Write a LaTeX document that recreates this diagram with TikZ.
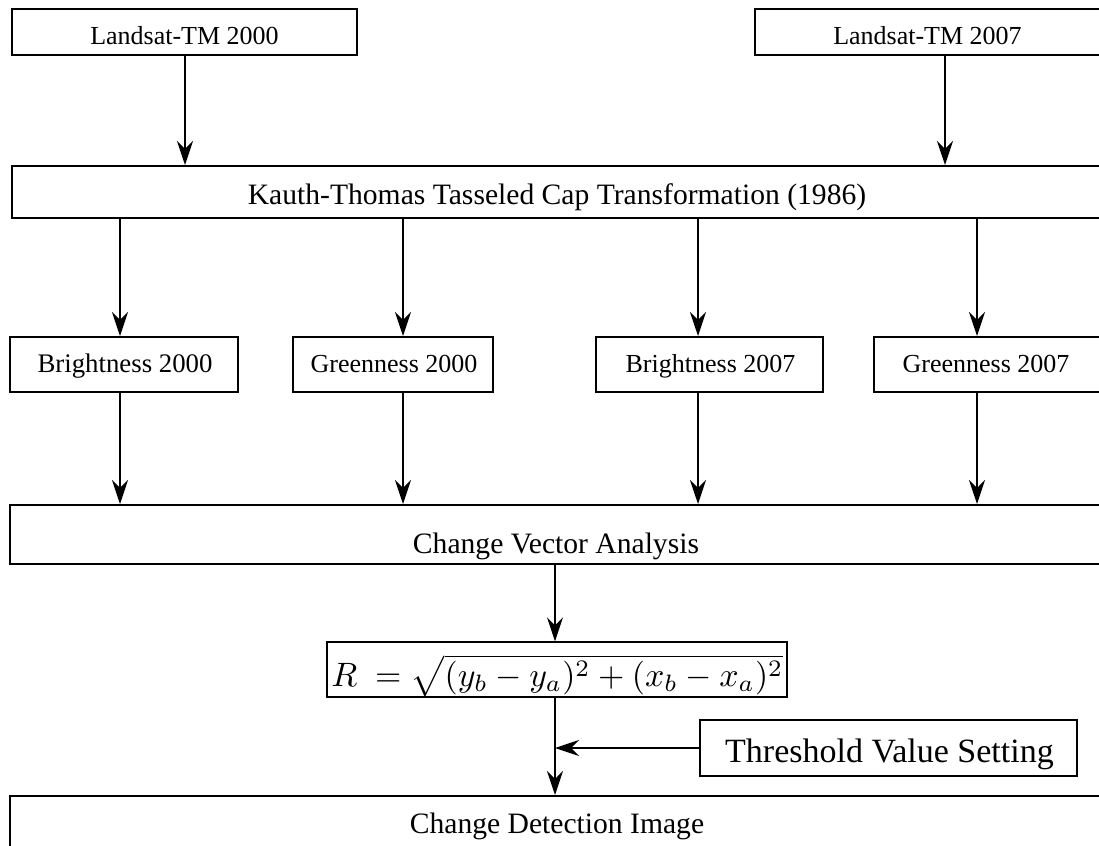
\documentclass[tikz,border=0pt]{standalone}
\usepackage{fontspec}
\setmainfont{Liberation Serif}
\usetikzlibrary{arrows.meta}
\begin{document}
\begin{tikzpicture}[x=0.5pt,y=-0.5pt,
  box/.style={draw, line width=1pt, rectangle, inner sep=0pt},
  thinbox/.style={draw, line width=0.6pt, rectangle, inner sep=0pt},
  txt/.style={inner sep=0pt, anchor=base, font=\fontsize{13}{15}\selectfont},
  widetxt/.style={inner sep=0pt, anchor=base, font=\fontsize{14.8}{17}\selectfont},
  bigtxt/.style={inner sep=0pt, anchor=base, font=\fontsize{17}{20}\selectfont},
  arr/.style={-{Stealth[length=12pt,width=8pt,inset=4pt]}, line width=0.75pt}]
\useasboundingbox (0,0) rectangle (1099,846);
\clip (0,0) rectangle (1099,846);

% inputs
\node[box, minimum width=172.5pt, minimum height=23pt] (l2000) at (184.5,32) {};
\node[txt] (l2000t) at (184.5,45) {Landsat-TM 2000};
\node[box, minimum width=172.5pt, minimum height=23pt] (l2007) at (927.5,32) {};
\node[txt] (l2007t) at (927.5,45) {Landsat-TM 2007};

% transformation
\node[box, minimum width=545pt, minimum height=26pt] (kauth) at (557,192) {};
\node[widetxt] (kautht) at (557,204) {Kauth-Thomas Tasseled Cap Transformation (1986)};

% components
\node[box, minimum width=114pt, minimum height=27.5pt] (b2000) at (124,364.5) {};
\node[txt, font=\fontsize{13.4}{15}\selectfont] (b2000t) at (125,372) {Brightness 2000};
\node[box, minimum width=100pt, minimum height=27.5pt] (g2000) at (393,364.5) {};
\node[txt] (g2000t) at (394,372) {Greenness 2000};
\node[box, minimum width=113.5pt, minimum height=27.5pt] (b2007) at (709.5,364.5) {};
\node[txt] (b2007t) at (710.5,372) {Brightness 2007};
\node[box, minimum width=113pt, minimum height=27.5pt] (g2007) at (987,364.5) {};
\node[txt] (g2007t) at (986,372) {Greenness 2007};

% change vector analysis
\node[box, minimum width=547pt, minimum height=29.5pt] (cva) at (557,534.5) {};
\node[widetxt] (cvat) at (556,553) {Change Vector Analysis};

% magnitude formula
\node[thinbox, minimum width=230pt, minimum height=27.5pt] (form) at (557,669.5) {};
\node[inner sep=0pt, anchor=base west] (formt) at (331,686)
  {\resizebox{226pt}{!}{$R\ = \sqrt{(y_b-y_a)^2+(x_b-x_a)^2}$}};

% threshold
\node[box, minimum width=188.5pt, minimum height=28pt] (thr) at (888.5,748) {};
\node[bigtxt] (thrt) at (889.5,762) {Threshold Value Setting};

% result
\node[box, minimum width=547pt, minimum height=31pt] (res) at (557,827) {};
\node[widetxt] (rest) at (557,833) {Change Detection Image};

% arrow columns
\coordinate (x185) at (185,0);
\coordinate (x945) at (945,0);
\coordinate (x120) at (120,0);
\coordinate (x403) at (403,0);
\coordinate (x698) at (698,0);
\coordinate (x977) at (977,0);
\coordinate (x555) at (555,0);

\draw[arr] (l2000.south -| x185) -- (kauth.north -| x185);
\draw[arr] (l2007.south -| x945) -- (kauth.north -| x945);

\draw[arr] (kauth.south -| x120) -- (b2000.north -| x120);
\draw[arr] (kauth.south -| x403) -- (g2000.north -| x403);
\draw[arr] (kauth.south -| x698) -- (b2007.north -| x698);
\draw[arr] (kauth.south -| x977) -- (g2007.north -| x977);

\draw[arr] (b2000.south -| x120) -- (cva.north -| x120);
\draw[arr] (g2000.south -| x403) -- (cva.north -| x403);
\draw[arr] (b2007.south -| x698) -- (cva.north -| x698);
\draw[arr] (g2007.south -| x977) -- (cva.north -| x977);

\draw[arr] (cva.south -| x555) -- (form.north -| x555);
\draw[arr] (form.south -| x555) -- (res.north -| x555);
\draw[arr] (thr.west) -- (thr.west -| x555);
\end{tikzpicture}
\end{document}
